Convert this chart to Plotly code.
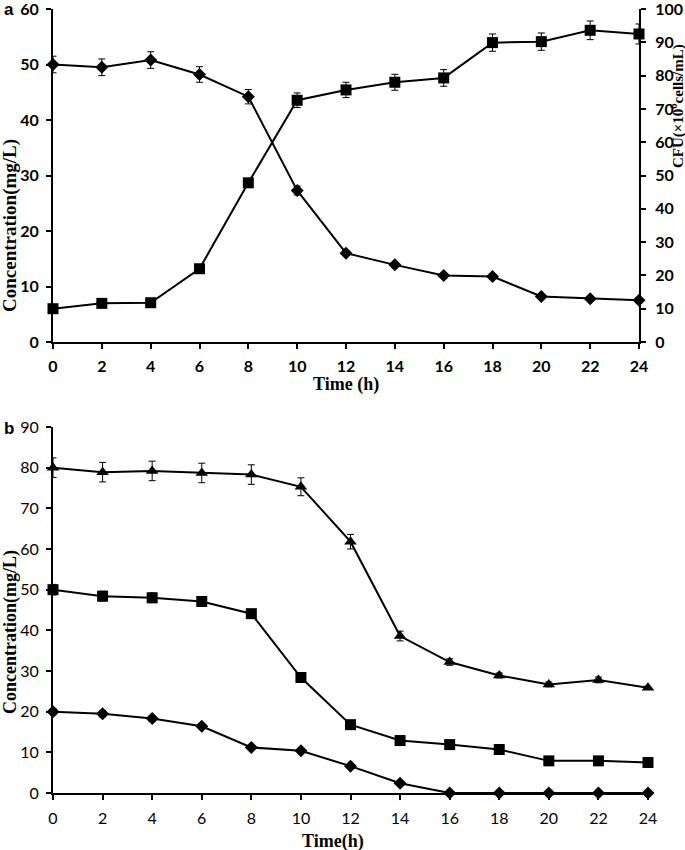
import plotly.graph_objects as go

W, H = 685, 850

time_h = [0, 2, 4, 6, 8, 10, 12, 14, 16, 18, 20, 22, 24]
x_ticks = [0, 2, 4, 6, 8, 10, 12, 14, 16, 18, 20, 22, 24]

# Panel a
conc_a = [50.0, 49.5, 50.8, 48.2, 44.2, 27.3, 16.0, 13.9, 12.0, 11.8, 8.2, 7.8, 7.5]
conc_a_err = [1.5, 1.5, 1.5, 1.4, 1.3, 0.8, 0.4, 0.4, 0.4, 0.4, 0.4, 0.3, 0.3]
cfu_a = [10.0, 11.6, 11.8, 22.0, 47.8, 72.6, 75.7, 78.0, 79.3, 89.9, 90.2, 93.6, 92.5]
cfu_a_err = [0.8, 0.8, 0.8, 1.0, 1.2, 2.2, 2.3, 2.4, 2.5, 2.6, 2.6, 2.8, 3.0]

# Panel b
tri_b = [80.0, 78.9, 79.2, 78.7, 78.3, 75.3, 61.8, 38.6, 32.2, 28.9, 26.7, 27.8, 25.9]
tri_b_err = [2.4, 2.4, 2.4, 2.4, 2.4, 2.2, 1.8, 1.2, 0.8, 0.6, 0.6, 0.7, 0.4]
sq_b = [50.0, 48.4, 48.0, 47.1, 44.1, 28.4, 16.8, 12.9, 11.9, 10.7, 7.9, 7.9, 7.5]
sq_b_err = [1.3, 1.2, 1.2, 1.1, 1.0, 0.6, 0.5, 0.4, 0.4, 0.4, 0.3, 0.3, 0.3]
dia_b = [20.0, 19.5, 18.3, 16.4, 11.2, 10.4, 6.6, 2.4, 0.0, 0.0, 0.0, 0.0, 0.0]
dia_b_err = [0.8, 0.8, 0.7, 0.6, 0.4, 0.4, 0.3, 0.2, 0.0, 0.0, 0.0, 0.0, 0.0]

TICKFONT = "Lato"
TITLEFONT = "Liberation Serif"

def err(vals):
    return dict(type="data", array=vals, visible=True, color="black", thickness=1, width=3.5)

fig = go.Figure()

fig.add_trace(go.Scatter(x=time_h, y=conc_a, error_y=err(conc_a_err), mode="lines+markers",
                         line=dict(color="black", width=2),
                         marker=dict(symbol="diamond", size=10, color="black"),
                         xaxis="x", yaxis="y", cliponaxis=False, showlegend=False))
fig.add_trace(go.Scatter(x=time_h, y=cfu_a, error_y=err(cfu_a_err), mode="lines+markers",
                         line=dict(color="black", width=2),
                         marker=dict(symbol="square", size=11, color="black"),
                         xaxis="x", yaxis="y3", cliponaxis=False, showlegend=False))

fig.add_trace(go.Scatter(x=time_h, y=tri_b, error_y=err(tri_b_err), mode="lines+markers",
                         line=dict(color="black", width=2),
                         marker=dict(symbol="triangle-up", size=11, color="black"),
                         xaxis="x2", yaxis="y2", cliponaxis=False, showlegend=False))
fig.add_trace(go.Scatter(x=time_h, y=sq_b, error_y=err(sq_b_err), mode="lines+markers",
                         line=dict(color="black", width=2),
                         marker=dict(symbol="square", size=11, color="black"),
                         xaxis="x2", yaxis="y2", cliponaxis=False, showlegend=False))
fig.add_trace(go.Scatter(x=time_h, y=dia_b, error_y=err(dia_b_err), mode="lines+markers",
                         line=dict(color="black", width=2),
                         marker=dict(symbol="diamond", size=10, color="black"),
                         xaxis="x2", yaxis="y2", cliponaxis=False, showlegend=False))

axcommon = dict(showline=True, linecolor="black", linewidth=2, ticks="outside",
                ticklen=5, tickwidth=2, tickcolor="black", showgrid=False, zeroline=False,
                automargin=False, ticklabeloverflow="allow")

fa_x0, fa_x1 = 53 / W, 639 / W
fb_x0, fb_x1 = 53 / W, 648 / W
fa_y0, fa_y1 = 1 - 342 / H, 1 - 9 / H
fb_y0, fb_y1 = 1 - 793 / H, 1 - 427 / H

bold_tick = dict(family=TICKFONT, size=16, color="black", weight="bold")
reg_tick = dict(family=TICKFONT, size=16, color="black")

fig.update_layout(
    width=W, height=H,
    margin=dict(l=0, r=0, t=0, b=0, autoexpand=False),
    plot_bgcolor="white", paper_bgcolor="white",
    xaxis=dict(domain=[fa_x0, fa_x1], anchor="y", range=[0, 24], tickvals=x_ticks,
               tickfont=bold_tick, ticklabelstandoff=4, **axcommon),
    yaxis=dict(domain=[fa_y0, fa_y1], anchor="x", range=[0, 60], dtick=10,
               tickfont=bold_tick, ticklabelstandoff=4, **axcommon),
    yaxis3=dict(overlaying="y", side="right", anchor="x", range=[0, 100], dtick=10,
                tickfont=bold_tick, ticklabelstandoff=6, **axcommon),
    xaxis2=dict(domain=[fb_x0, fb_x1], anchor="y2", range=[0, 24], tickvals=x_ticks,
                tickfont=reg_tick, ticklabelstandoff=5, **axcommon),
    yaxis2=dict(domain=[fb_y0, fb_y1], anchor="x2", range=[0, 90], dtick=10,
                tickfont=reg_tick, ticklabelstandoff=4, **axcommon),
)

def tf(size):
    return dict(family=TITLEFONT, size=size, color="black", weight="bold")

annos = [
    dict(text="a", x=9 / W, y=1 - 10 / H, font=dict(family="Liberation Sans", size=17, color="black", weight="bold")),
    dict(text="b", x=9 / W, y=1 - 428 / H, font=dict(family="Liberation Sans", size=17, color="black", weight="bold")),
    dict(text="Concentration(mg/L)", x=10 / W, y=1 - 226 / H, textangle=-90, font=tf(19)),
    dict(text="CFU(×10<sup>6</sup>cells/mL)", x=677 / W, y=1 - 106 / H, textangle=-90, font=tf(15)),
    dict(text="Time (h)", x=346 / W, y=1 - 384 / H, font=tf(18)),
    dict(text="Concentration(mg/L)", x=10 / W, y=1 - 632 / H, textangle=-90, font=tf(18)),
    dict(text="Time(h)", x=333 / W, y=1 - 841 / H, font=tf(18)),
]
fig.update_layout(annotations=[dict(xref="paper", yref="paper", showarrow=False,
                                    xanchor="center", yanchor="middle", **a) for a in annos])

fig.write_html("out.html", config={"displayModeBar": False},
               post_script="document.body.style.margin='0';document.body.style.overflow='hidden';")
